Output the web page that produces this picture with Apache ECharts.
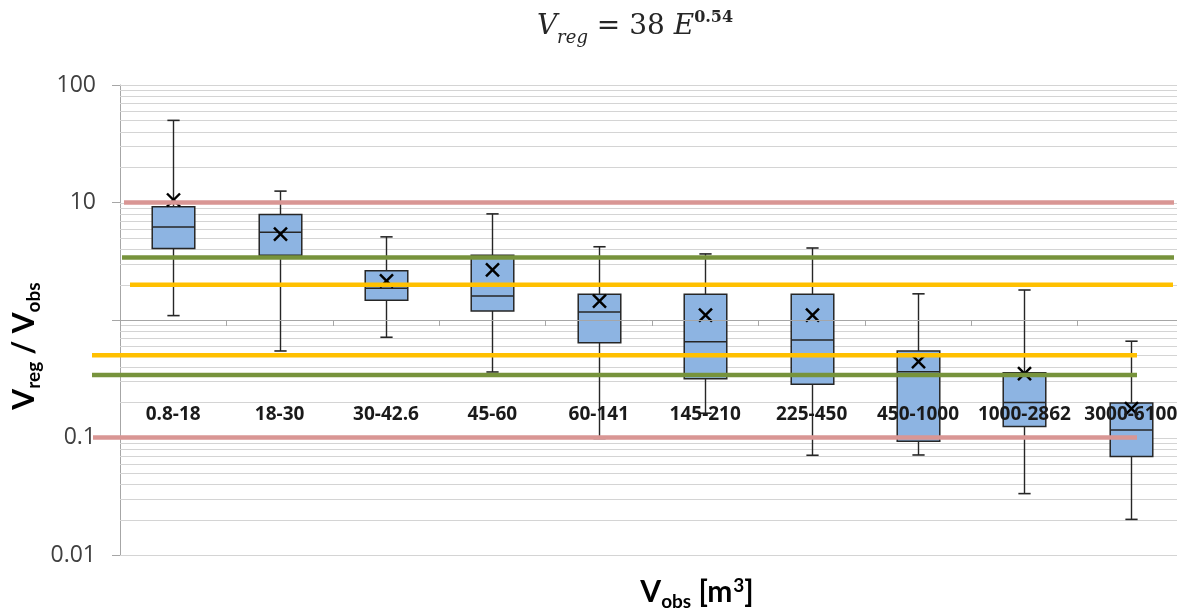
<!DOCTYPE html>
<html>
<head>
<meta charset="utf-8">
<script src="https://cdn.jsdelivr.net/npm/echarts@6/dist/echarts.min.js"></script>
<style>
  html, body { margin: 0; padding: 0; background: #ffffff; }
  #chart { width: 1184px; height: 610px; }
</style>
</head>
<body>
<div id="chart"></div>
<script>
// Volume classes (observed volume ranges, m³)
const categories = ['0.8-18', '18-30', '30-42.6', '45-60', '60-141', '145-210', '225-450', '450-1000', '1000-2862', '3000-6100'];

// Ratio Vreg / Vobs per class: whiskers, quartiles, median and mean
const whiskerHigh = [50, 12.5, 5.1, 8.0, 4.2, 3.65, 4.1, 1.67, 1.8, 0.66];
const quartile3   = [9.2, 7.9, 2.63, 3.55, 1.66, 1.66, 1.66, 0.545, 0.356, 0.197];
const medians     = [6.2, 5.57, 1.86, 1.6, 1.17, 0.654, 0.676, 0.363, 0.199, 0.116];
const quartile1   = [4.05, 3.55, 1.47, 1.19, 0.641, 0.317, 0.284, 0.093, 0.124, 0.069];
const whiskerLow  = [1.09, 0.545, 0.713, 0.361, 0.098, 0.161, 0.0706, 0.071, 0.0333, 0.0201];
const means       = [10.5, 5.39, 2.15, 2.67, 1.45, 1.10, 1.10, 0.442, 0.35, 0.176];

// Log axis decades and the in-between grid values
const yTicks = [0.01, 0.1, 1, 10, 100];
const minorSteps = [2, 3, 4, 5, 6, 7, 8, 9];

// Reference bands (upper, lower)
const bandRed    = [10, 0.1];
const bandGreen  = [3.4, 0.34];
const bandYellow = [2, 0.5];

const chart = echarts.init(document.getElementById('chart'), null, { renderer: 'canvas' });

const boxData = categories.map((c, i) => [i, whiskerLow[i], quartile1[i], medians[i], quartile3[i], whiskerHigh[i], means[i]]);

const GRID = { left: 120, top: 85, width: 1073, height: 470 };
const PLOT_RIGHT = 1177;

function renderBox(params, api) {
  const i = api.value(0);
  const lo = api.coord([i, api.value(1)]);
  const q1 = api.coord([i, api.value(2)]);
  const md = api.coord([i, api.value(3)]);
  const q3 = api.coord([i, api.value(4)]);
  const hi = api.coord([i, api.value(5)]);
  const mn = api.coord([i, api.value(6)]);
  const band = api.coord([1, api.value(3)])[0] - api.coord([0, api.value(3)])[0];
  const bw = band * 0.4;
  const cw = band * 0.115;
  const x = Math.round(lo[0]) + 0.5;
  const stroke = '#262626';
  const xs = 6.5;
  return {
    type: 'group',
    children: [
      { type: 'line', shape: { x1: x, y1: hi[1], x2: x, y2: lo[1] }, style: { stroke: stroke, lineWidth: 1.4 } },
      { type: 'line', shape: { x1: x - cw / 2, y1: hi[1], x2: x + cw / 2, y2: hi[1] }, style: { stroke: stroke, lineWidth: 1.6 } },
      { type: 'line', shape: { x1: x - cw / 2, y1: lo[1], x2: x + cw / 2, y2: lo[1] }, style: { stroke: stroke, lineWidth: 1.6 } },
      { type: 'rect', shape: { x: x - bw / 2, y: q3[1], width: bw, height: q1[1] - q3[1] },
        style: { fill: '#8DB4E2', stroke: stroke, lineWidth: 1.5 } },
      { type: 'line', shape: { x1: x - bw / 2, y1: md[1], x2: x + bw / 2, y2: md[1] }, style: { stroke: stroke, lineWidth: 1.5 } },
      { type: 'line', shape: { x1: x - xs, y1: mn[1] - xs, x2: x + xs, y2: mn[1] + xs }, style: { stroke: '#000', lineWidth: 2.4 } },
      { type: 'line', shape: { x1: x - xs, y1: mn[1] + xs, x2: x + xs, y2: mn[1] - xs }, style: { stroke: '#000', lineWidth: 2.4 } }
    ]
  };
}

chart.setOption({
  animation: false,
  backgroundColor: '#ffffff',
  textStyle: { fontFamily: 'Open Sans' },
  grid: GRID,
  xAxis: {
    type: 'category',
    data: categories,
    position: 'bottom',
    offset: -GRID.height / 2,
    z: 6,
    axisLine: { show: false },
    axisTick: { show: true, alignWithLabel: false, length: 6, lineStyle: { color: '#a6a6a6', width: 1 } },
    axisLabel: { interval: 0, margin: 85, fontFamily: 'Open Sans', fontWeight: 'bold', fontSize: 19, color: '#1a1a1a' },
    splitLine: { show: false }
  },
  yAxis: {
    type: 'log',
    logBase: 10,
    min: yTicks[0],
    max: yTicks[yTicks.length - 1],
    axisLine: { show: true, lineStyle: { color: '#a6a6a6', width: 1 } },
    axisTick: { show: true, length: 8, lineStyle: { color: '#a6a6a6', width: 1 } },
    axisLabel: {
      margin: 24, fontFamily: 'Open Sans', fontSize: 23, color: '#404040',
      formatter: v => (Math.abs(v - 1) < 1e-9 ? '' : String(+v.toPrecision(3)))
    },
    splitLine: { show: false },
    minorSplitLine: { show: false }
  },
  series: [{
    type: 'custom',
    name: 'Vreg / Vobs',
    z: 3,
    renderItem: renderBox,
    encode: { x: 0, y: [1, 2, 3, 4, 5, 6] },
    data: boxData
  }]
});

// Horizontal grid, the category baseline at 1, reference bands and titles
const yPix = v => chart.convertToPixel({ yAxisIndex: 0 }, v);
const crisp = y => Math.round(y) + 0.5;
const graphics = [];

const gridValues = [];
yTicks.forEach((t, k) => {
  gridValues.push(t);
  if (k < yTicks.length - 1) minorSteps.forEach(m => gridValues.push(t * m));
});
gridValues.forEach(v => {
  const y = crisp(yPix(v));
  graphics.push({ type: 'line', z: 1, silent: true,
    shape: { x1: GRID.left, y1: y, x2: PLOT_RIGHT, y2: y },
    style: { stroke: '#d4d4d4', lineWidth: 1.2 } });
});

const yOne = crisp(yPix(1));
graphics.push({ type: 'line', z: 6, silent: true,
  shape: { x1: GRID.left, y1: yOne, x2: PLOT_RIGHT, y2: yOne },
  style: { stroke: '#a6a6a6', lineWidth: 1 } });

const bands = [
  { vals: bandRed,    color: '#D99694', upper: [124, 1174], lower: [93, 1137] },
  { vals: bandGreen,  color: '#77933C', upper: [122, 1174], lower: [92, 1137] },
  { vals: bandYellow, color: '#FFC000', upper: [130, 1173], lower: [92, 1137] }
];
bands.forEach(b => {
  [[b.vals[0], b.upper], [b.vals[1], b.lower]].forEach(([v, span]) => {
    const y = yPix(v);
    graphics.push({ type: 'line', z: 10, silent: true,
      shape: { x1: span[0], y1: y, x2: span[1], y2: y },
      style: { stroke: b.color, lineWidth: 4.5, lineCap: 'butt' } });
  });
});

graphics.push({
  type: 'text', z: 10, x: 635, y: 28,
  style: {
    text: '{v|V}{s|reg}{n| = 38 }{v|E}{p|0.54}',
    align: 'center', verticalAlign: 'middle', fill: '#262626',
    rich: {
      v: { fontFamily: 'DejaVu Serif', fontStyle: 'italic', fontSize: 28, lineHeight: 30, verticalAlign: 'top', fill: '#262626' },
      s: { fontFamily: 'DejaVu Serif', fontStyle: 'italic', fontSize: 18, lineHeight: 18, padding: [16, 0, 0, 0], verticalAlign: 'top', fill: '#262626' },
      n: { fontFamily: 'DejaVu Serif', fontSize: 28, lineHeight: 30, verticalAlign: 'top', fill: '#262626' },
      p: { fontFamily: 'DejaVu Serif', fontWeight: 'bold', fontSize: 16, lineHeight: 16, padding: [-3, 0, 0, 0], verticalAlign: 'top', fill: '#262626' }
    }
  }
});

graphics.push({
  type: 'text', z: 10, x: 24, y: 346, rotation: Math.PI / 2,
  style: {
    text: '{v|V}{s|reg}{v| / V}{s|obs}',
    align: 'center', verticalAlign: 'middle', fill: '#000',
    rich: {
      v: { fontFamily: 'Lato', fontWeight: 'bold', fontSize: 30, lineHeight: 30, verticalAlign: 'top', fill: '#000' },
      s: { fontFamily: 'Lato', fontWeight: 'bold', fontSize: 19, lineHeight: 19, padding: [15, 0, 0, 0], verticalAlign: 'top', fill: '#000' }
    }
  }
});

graphics.push({
  type: 'text', z: 10, x: 697, y: 592,
  style: {
    text: '{v|V}{s|obs}{v| [m}{p|3}{v|]}',
    align: 'center', verticalAlign: 'middle', fill: '#000',
    rich: {
      v: { fontFamily: 'Lato', fontWeight: 'bold', fontSize: 30, lineHeight: 30, verticalAlign: 'top', fill: '#000' },
      s: { fontFamily: 'Lato', fontWeight: 'bold', fontSize: 19, lineHeight: 19, padding: [15, 0, 0, 0], verticalAlign: 'top', fill: '#000' },
      p: { fontFamily: 'Lato', fontWeight: 'bold', fontSize: 19, lineHeight: 19, padding: [-1, 0, 0, 1], verticalAlign: 'top', fill: '#000' }
    }
  }
});

chart.setOption({ graphic: { elements: graphics } });
</script>
</body>
</html>
